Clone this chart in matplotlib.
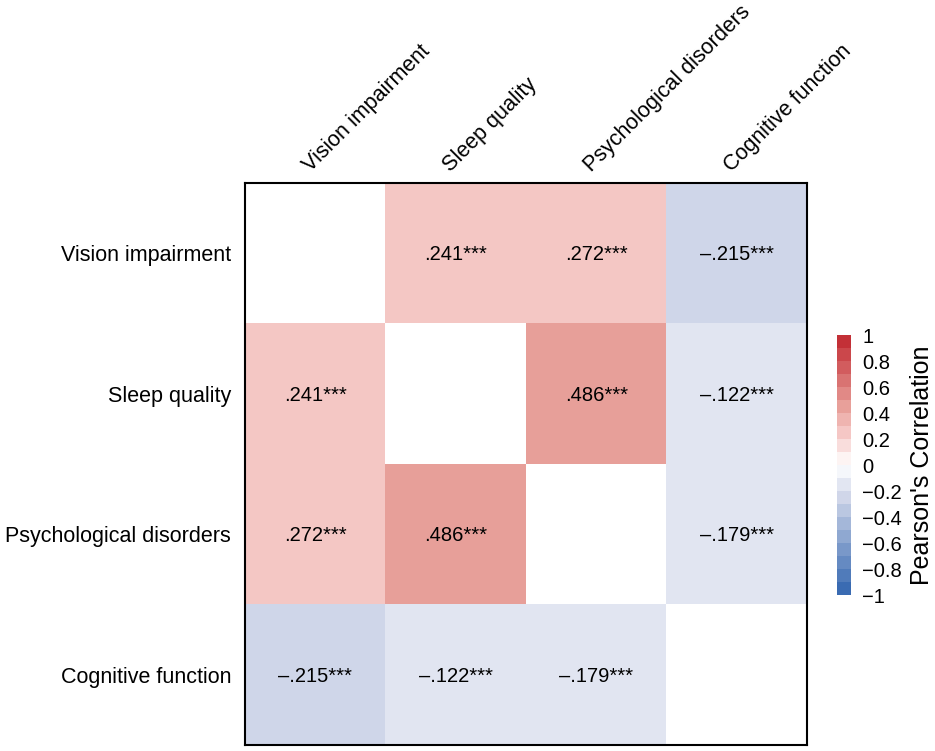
import numpy as np
import matplotlib
matplotlib.use("Agg")
import matplotlib.pyplot as plt
from matplotlib.colors import LinearSegmentedColormap, ListedColormap, BoundaryNorm

plt.rcParams['font.family'] = ['Liberation Sans', 'DejaVu Sans']

variables = ["Vision impairment", "Sleep quality", "Psychological disorders", "Cognitive function"]

# correlation values (diagonal left blank)
vision = [np.nan, 0.241, 0.272, -0.215]
sleep = [0.241, np.nan, 0.486, -0.122]
psych = [0.272, 0.486, np.nan, -0.179]
cognitive = [-0.215, -0.122, -0.179, np.nan]
stars = "***"

corr = np.array([vision, sleep, psych, cognitive])

# discrete 20-step blue-white-red scale
anchors = LinearSegmentedColormap.from_list(
    "pearson",
    [(0.0, "#3064AE"), (0.375, "#CFD6E9"), (0.5, "#FFFFFF"),
     (0.625, "#F5C8C6"), (0.725, "#E8A09A"), (1.0, "#C0262E")])
bounds = np.linspace(-1, 1, 21)
centers = (bounds[:-1] + bounds[1:]) / 2
cmap = ListedColormap([anchors((c + 1) / 2) for c in centers])
cmap.set_bad("white")
norm = BoundaryNorm(bounds, cmap.N)

fig = plt.figure(figsize=(9.35, 7.51), dpi=100)
ax = fig.add_axes([0.262, 0.008, 0.601, 0.7483])

im = ax.imshow(np.ma.masked_invalid(corr), cmap=cmap, norm=norm, aspect="auto")

for i in range(len(variables)):
    for j in range(len(variables)):
        v = corr[i, j]
        if np.isnan(v):
            continue
        s = ("%.3f" % abs(v)).lstrip("0")
        if v < 0:
            s = "\u2013" + s
        ax.text(j, i + 0.01, s + stars, ha="center", va="center", fontsize=14.5, color="black")

ax.set_xticks([])
ax.set_yticks(range(len(variables)))
ax.set_yticklabels(variables, fontsize=15.5)
ax.tick_params(axis="y", length=0, pad=10)

for j, name in enumerate(variables):
    ax.annotate(name, xy=(j, -0.5), xycoords="data", xytext=(-1, 5),
                textcoords="offset points", rotation=45, rotation_mode="anchor",
                ha="left", va="bottom", fontsize=15.5, annotation_clip=False)

for sp in ax.spines.values():
    sp.set_linewidth(1.5)
    sp.set_color("black")

cax = fig.add_axes([0.8952, 0.2077, 0.015, 0.3462])
cb = fig.colorbar(im, cax=cax, ticks=np.round(np.arange(-1, 1.01, 0.2), 1))
cb.outline.set_visible(False)
cb.minorticks_off()
cb.ax.tick_params(which="both", length=0, labelsize=14.5, pad=8)
cb.ax.set_yticklabels(["\u22121", "\u22120.8", "\u22120.6", "\u22120.4", "\u22120.2", "0",
                       "0.2", "0.4", "0.6", "0.8", "1"])
cb.set_label("Pearson's Correlation", fontsize=18, labelpad=6)

fig.savefig("out.png", dpi=100)
